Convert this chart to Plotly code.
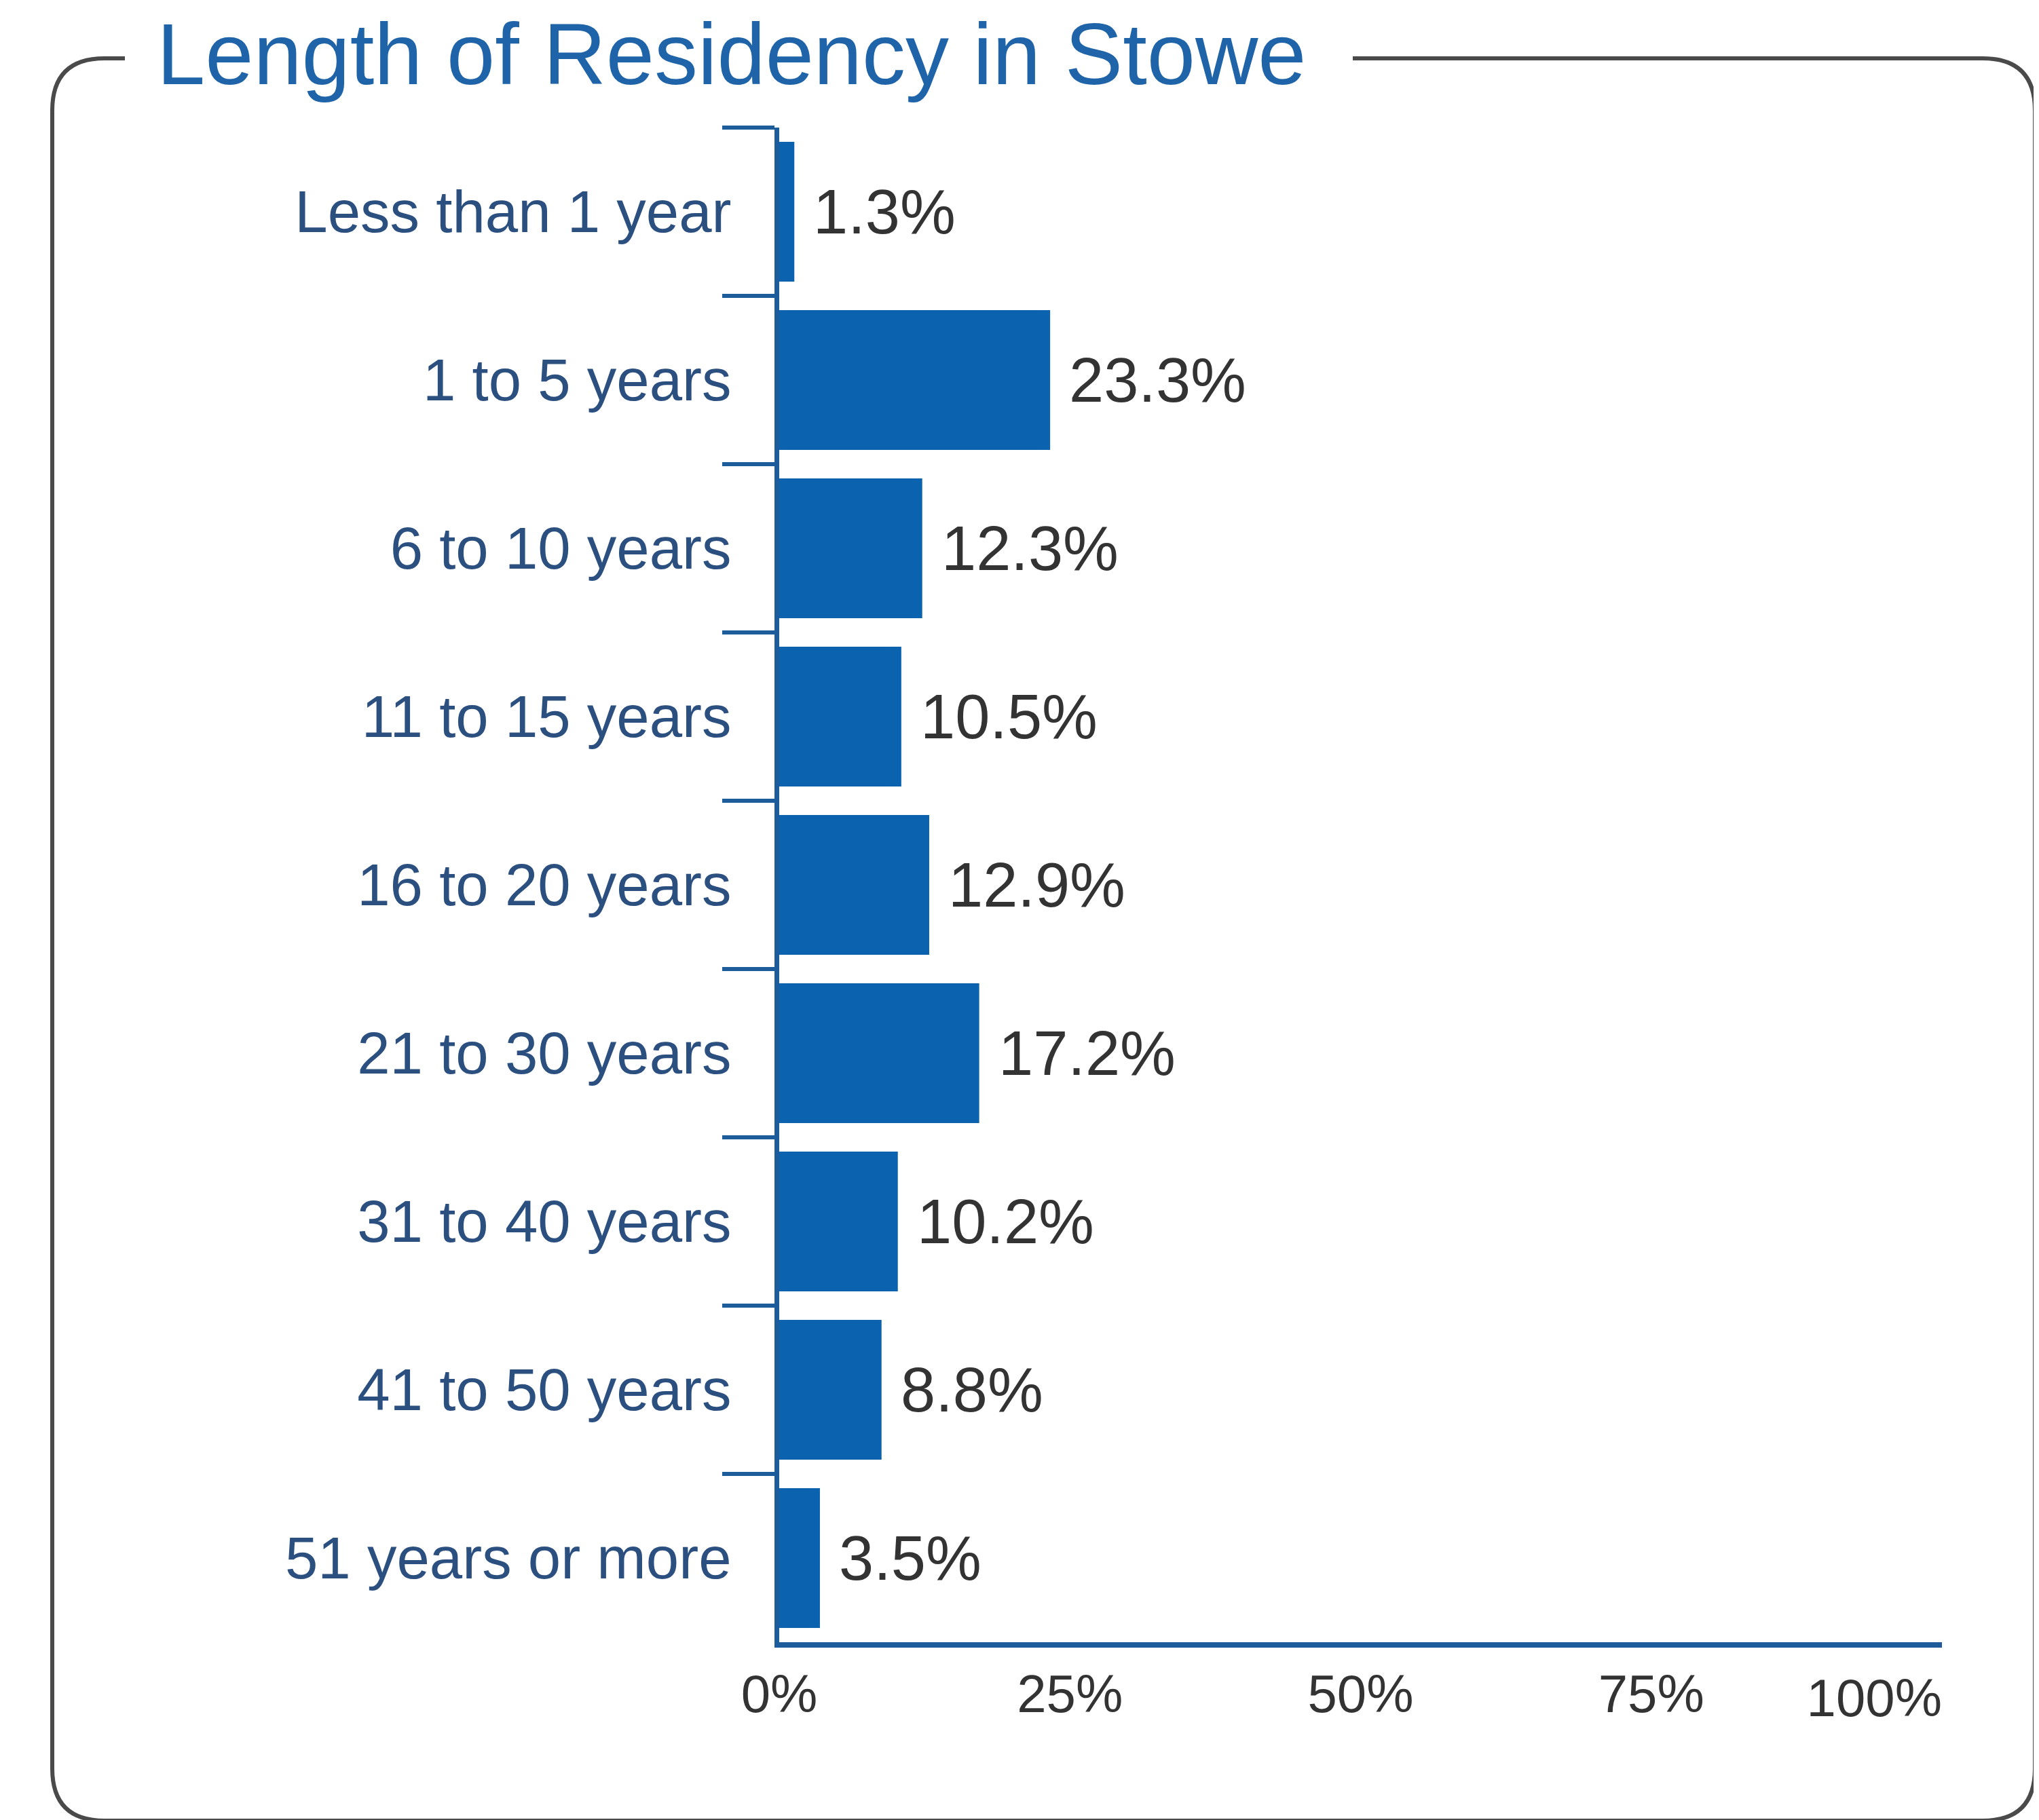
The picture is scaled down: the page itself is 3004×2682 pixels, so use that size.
import plotly.graph_objects as go

categories = ["Less than 1 year", "1 to 5 years", "6 to 10 years", "11 to 15 years",
              "16 to 20 years", "21 to 30 years", "31 to 40 years", "41 to 50 years",
              "51 years or more"]
values = [1.3, 23.3, 12.3, 10.5, 12.9, 17.2, 10.2, 8.8, 3.5]
x_tickvals = [0, 25, 50, 75, 100]
x_ticktext = ["0%", "25%", "50%", "75%", "100%"]

W, H = 3004, 2682
L, R, T, B = 1140, 151, 180, 270
PW, PH = W - L - R, H - T - B

FONT = "Liberation Sans, Arial, Helvetica, sans-serif"
BAR = "#0b62ae"
AXIS = "#1d5c9b"
TITLE = "#1f64a8"
CAT = "#2b5080"
VAL = "#333333"
FRAME = "#4a4a4a"


def px(x):
    return (x - L) / PW


def py(y):
    return (H - B - y) / PH


fig = go.Figure()
fig.add_trace(go.Bar(
    x=values, y=categories, orientation="h",
    marker=dict(color=BAR, line=dict(width=0)),
    hoverinfo="skip",
))
# invisible copy on an overlaid axis that only carries the last x tick label
fig.add_trace(go.Bar(
    x=values, y=categories, orientation="h", xaxis="x2",
    marker=dict(color="rgba(0,0,0,0)", line=dict(width=0)),
    hoverinfo="skip", showlegend=False,
))

for c, v in zip(categories, values):
    fig.add_annotation(
        x=v, y=c, xref="x", yref="y", text=f"{v:.1f}%", showarrow=False,
        xanchor="left", yanchor="middle", xshift=26, yshift=0,
        font=dict(family=FONT, size=92, color=VAL),
    )

# rounded frame with gap for title
x0, x1, y0, y1, r = 69, 2990, 78, 2675, 77
gap_l, gap_r = 176, 1985
path = (
    f"M {px(gap_l)},{py(y0)} L {px(x0 + r)},{py(y0)} "
    f"Q {px(x0)},{py(y0)} {px(x0)},{py(y0 + r)} "
    f"L {px(x0)},{py(y1 - r)} Q {px(x0)},{py(y1)} {px(x0 + r)},{py(y1)} "
    f"L {px(x1 - r)},{py(y1)} Q {px(x1)},{py(y1)} {px(x1)},{py(y1 - r)} "
    f"L {px(x1)},{py(y0 + r)} Q {px(x1)},{py(y0)} {px(x1 - r)},{py(y0)} "
    f"L {px(gap_r)},{py(y0)}"
)
fig.add_shape(type="path", path=path, xref="paper", yref="paper",
              line=dict(color=FRAME, width=6), layer="below")

tickfont = dict(family=FONT, size=78, color=VAL)

fig.update_layout(
    width=W, height=H,
    margin=dict(l=L, r=R, t=T, b=B, pad=0, autoexpand=False),
    paper_bgcolor="white", plot_bgcolor="white",
    showlegend=False, bargap=0.17,
    title=dict(
        text="Length of Residency in Stowe",
        font=dict(family=FONT, size=128, color=TITLE),
        xref="container", yref="container",
        x=223 / W, xanchor="left", y=1 - 71 / H, yanchor="middle",
        automargin=False,
    ),
    xaxis=dict(
        range=[0, 100], tickvals=x_tickvals[:-1], ticktext=x_ticktext[:-1],
        showgrid=False, zeroline=False, ticks="",
        showline=True, linecolor=AXIS, linewidth=8,
        tickfont=tickfont, ticklabelstandoff=1, automargin=False,
    ),
    xaxis2=dict(
        range=[0, 100], overlaying="x", anchor="y", side="bottom",
        tickvals=x_tickvals[-1:], ticktext=x_ticktext[-1:],
        ticklabelposition="outside left",
        showgrid=False, zeroline=False, ticks="", showline=False,
        tickfont=tickfont, ticklabelstandoff=30, automargin=False,
    ),
    yaxis=dict(
        type="category", categoryorder="array", categoryarray=categories,
        range=[len(categories) - 0.5, -0.5],
        showgrid=False, zeroline=False,
        ticks="outside", tickson="boundaries", ticklen=77, tickwidth=6,
        tickcolor=AXIS, showline=True, linecolor=AXIS, linewidth=7,
        tickfont=dict(family=FONT, size=87, color=CAT),
        ticklabelstandoff=46, automargin=False,
    ),
)

fig.write_html("out.html")
